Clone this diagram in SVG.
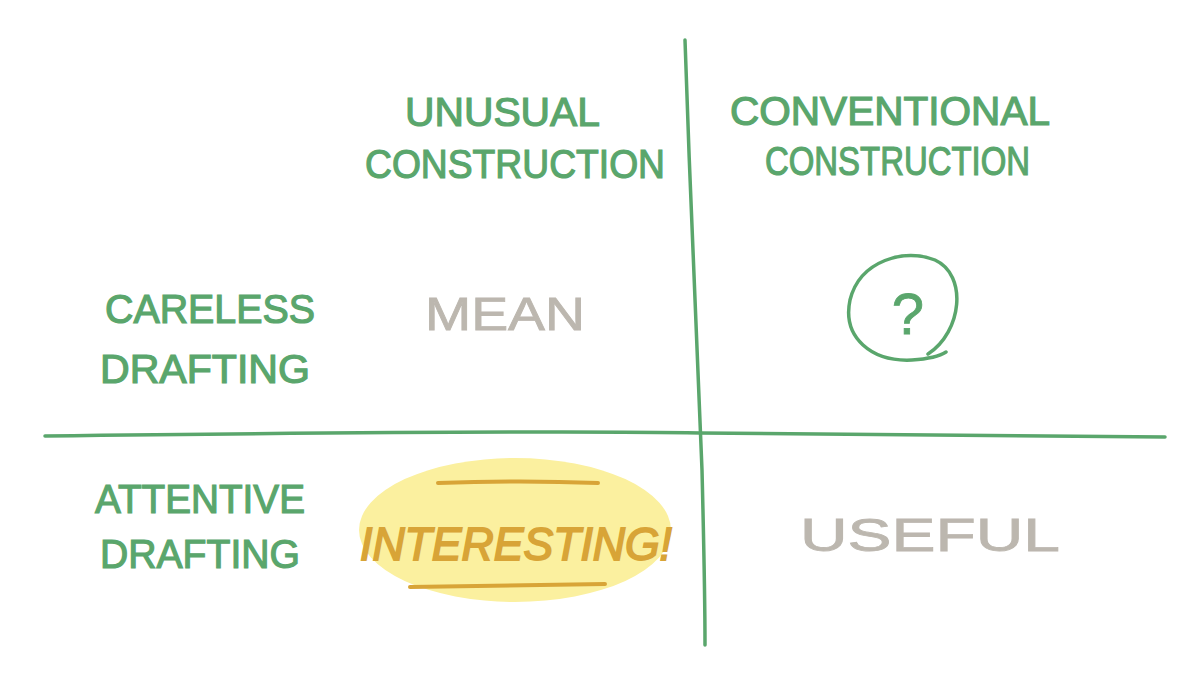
<svg xmlns="http://www.w3.org/2000/svg" width="1200" height="684" viewBox="0 0 1200 684">
<style>
.g{fill:#5aa66c;font-family:"Liberation Sans","DejaVu Sans",sans-serif;font-size:40px;stroke:#5aa66c;stroke-width:1.2}
.gr{fill:#bcb7af;font-family:"Liberation Sans","DejaVu Sans",sans-serif;font-size:46px;stroke:#bcb7af;stroke-width:0.8}
.au{fill:#d8a437;font-family:"Liberation Sans","DejaVu Sans",sans-serif;font-size:46px;font-style:italic;stroke:#d8a437;stroke-width:1.8}
.ln{fill:none;stroke:#5aa66c;stroke-width:3.5;stroke-linecap:round}
.ul{fill:none;stroke:#d8a437;stroke-width:4;stroke-linecap:round}
</style>
<rect width="1200" height="684" fill="#ffffff"/>
<g id="connectors">
<path class="ln" d="M685 40 C690 200 700 400 702 470 C704 550 705 600 705 645"/>
<path class="ln" d="M45 436 C300 433 600 431 700 433 C900 435 1050 436 1165 437"/>
</g>
<g id="col-unusual">
<text class="g" x="405" y="126" textLength="195" lengthAdjust="spacingAndGlyphs">UNUSUAL</text>
<text class="g" x="365" y="178" textLength="300" lengthAdjust="spacingAndGlyphs">CONSTRUCTION</text>
</g>
<g id="col-conventional">
<text class="g" x="730" y="125" textLength="320" lengthAdjust="spacingAndGlyphs">CONVENTIONAL</text>
<text class="g" x="765" y="175" textLength="265" lengthAdjust="spacingAndGlyphs">CONSTRUCTION</text>
</g>
<g id="row-careless">
<text class="g" x="105" y="323" textLength="210" lengthAdjust="spacingAndGlyphs">CARELESS</text>
<text class="g" x="100" y="383" textLength="210" lengthAdjust="spacingAndGlyphs">DRAFTING</text>
</g>
<g id="row-attentive">
<text class="g" x="95" y="513" textLength="210" lengthAdjust="spacingAndGlyphs">ATTENTIVE</text>
<text class="g" x="100" y="568" textLength="200" lengthAdjust="spacingAndGlyphs">DRAFTING</text>
</g>
<g id="cell-mean">
<text class="gr" x="425" y="330" textLength="160" lengthAdjust="spacingAndGlyphs">MEAN</text>
</g>
<g id="cell-question">
<path class="ln" d="M928 354 C962 332 968 275 935 260 C905 248 860 260 850 300 C842 338 872 362 912 360 C927 359 940 356 946 352" stroke-width="4"/>
<text x="908" y="334" text-anchor="middle" fill="#5aa66c" stroke="#5aa66c" stroke-width="0.8" font-family="Liberation Sans, sans-serif" font-size="58">?</text>
</g>
<g id="cell-interesting">
<ellipse cx="515" cy="530" rx="156" ry="72" fill="#fbf09f"/>
<path class="ul" d="M438 483 C490 481 550 481 598 483"/>
<path class="ul" d="M410 587 C480 586 550 585 605 584"/>
<text class="au" x="360" y="560" textLength="312" lengthAdjust="spacingAndGlyphs">INTERESTING!</text>
</g>
<g id="cell-useful">
<text class="gr" x="800" y="551" textLength="260" lengthAdjust="spacingAndGlyphs">USEFUL</text>
</g>
</svg>
